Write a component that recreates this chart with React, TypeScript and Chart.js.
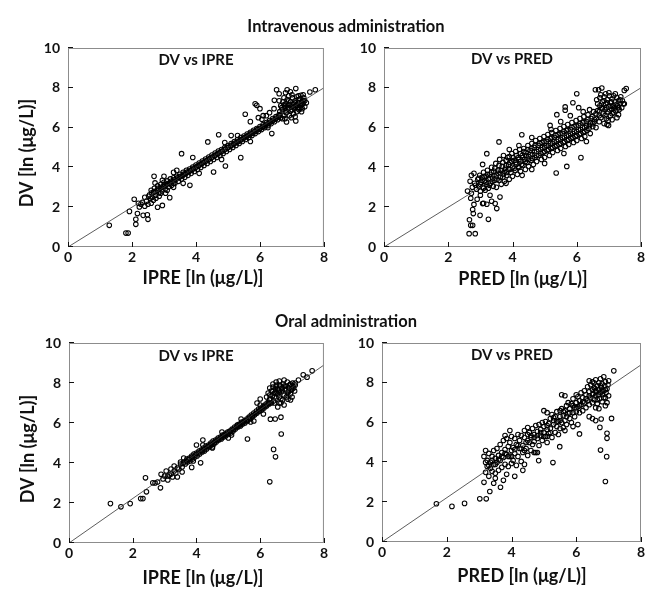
import { useEffect, useRef } from "react";
import { Chart, registerables } from "chart.js";
Chart.register(...registerables);

const xTicks = [0, 2, 4, 6, 8];
const yTicks = [0, 2, 4, 6, 8, 10];

const ivIpre: [number, number][] = [
  [1.29,1.09],[1.81,0.70],[1.88,0.70],[1.92,1.79],[2.07,2.40],[2.12,1.39],[2.17,1.68],[2.12,1.14],[2.23,2.01],[2.2,2.2],
  [2.28,2.15],[2.33,2.25],[2.35,1.59],[2.4,2.05],[2.48,1.62],[2.5,1.39],[2.45,2.3],[2.52,2.55],[2.58,2.45],[2.67,2.35],
  [2.69,3.55],[2.72,3.22],[2.8,2.0],[2.95,2.09],[3.18,2.48],[2.85,2.55],[3.05,2.7],[3.3,3.0],[3.55,4.69],[3.81,3.10],
  [4.37,5.28],[4.55,3.77],[4.71,5.64],[4.92,4.07],[5.40,4.49],[5.54,6.67],[5.85,7.2],[5.9,7.12],[6.0,6.95],[6.06,6.42],
  [6.37,5.70],[6.44,6.95],[6.52,7.9],[6.6,7.7],[6.45,7.37],[6.85,7.9],[7.12,7.96],[7.35,7.65],[7.56,7.79],[7.73,7.9],
  [6.78,6.45],[6.83,6.28],[7.12,6.33],[3.9,4.5],[4.1,3.7],[3.6,3.2],[4.8,4.4],[5.1,5.6],[5.7,5.3],[6.2,6.6],
  [3.3,3.75],[3.0,3.55],[2.9,2.7],
  [2.55,2.62],[2.6,2.85],[2.63,2.5],[2.68,2.75],[2.7,2.95],[2.74,2.6],[2.78,2.85],[2.8,3.08],[2.84,2.72],[2.88,2.95],
  [2.9,3.15],[2.94,2.82],[2.98,3.05],[3.0,3.25],[3.04,2.92],[3.08,3.15],[3.1,3.32],[3.14,3.02],[3.18,3.22],[3.2,3.42],
  [3.24,3.1],[3.28,3.3],[3.3,3.48],[3.34,3.2],[3.38,3.4],[3.4,3.55],[3.45,3.3],[3.48,3.5],[3.5,3.65],[3.55,3.42],
  [3.58,3.58],[3.6,3.75],[3.65,3.5],[3.68,3.68],[3.7,3.85],[3.75,3.6],[3.78,3.78],[3.8,3.92],[3.85,3.7],[3.88,3.88],
  [3.9,4.02],[3.95,3.8],[3.98,3.98],[4.0,4.12],[4.05,3.9],[4.08,4.08],[4.1,4.22],[4.15,4.0],[4.18,4.18],[4.2,4.32],
  [4.25,4.1],[4.28,4.28],[4.3,4.42],[4.35,4.2],[4.38,4.38],[4.4,4.52],[4.45,4.3],[4.48,4.48],[4.5,4.62],[4.55,4.4],
  [4.58,4.58],[4.6,4.72],[4.65,4.5],[4.68,4.68],[4.7,4.82],[4.75,4.6],[4.78,4.78],[4.8,4.9],[4.85,4.7],[4.88,4.88],
  [4.9,5.0],[4.95,4.8],[4.98,4.98],[5.0,5.1],[5.05,4.9],[5.08,5.06],[5.1,5.2],[5.15,5.0],[5.18,5.16],[5.2,5.3],
  [5.25,5.1],[5.28,5.26],[5.3,5.4],[5.35,5.2],[5.38,5.35],[5.4,5.5],[5.45,5.3],[5.48,5.45],[5.5,5.58],[5.55,5.4],
  [5.58,5.54],[5.6,5.68],[5.65,5.5],[5.68,5.63],[5.7,5.76],[5.75,5.6],[5.78,5.72],[5.8,5.86],[5.85,5.7],[5.88,5.82],
  [5.9,5.95],[5.95,5.8],[5.98,5.92],[6.0,6.05],[6.05,5.9],[6.08,6.02],[6.1,6.15],[6.15,6.0],[6.18,6.12],[6.2,6.25],
  [6.25,6.1],[6.28,6.22],[6.3,6.35],[6.35,6.2],[6.38,6.32],[6.4,6.45],[6.45,6.3],[6.48,6.42],[6.5,6.55],[6.55,6.4],
  [6.58,6.52],[6.6,6.65],[6.65,6.5],
  [2.62,2.72],[2.72,2.78],[2.82,2.95],[2.92,3.0],[3.02,3.12],[3.12,3.18],[3.22,3.3],[3.32,3.38],[3.42,3.48],[3.52,3.55],
  [3.62,3.66],[3.72,3.76],[3.82,3.84],[3.92,3.95],[4.02,4.04],[4.12,4.14],[4.22,4.24],[4.32,4.34],[4.42,4.44],[4.52,4.53],
  [4.62,4.63],[4.72,4.73],[4.82,4.82],[4.92,4.93],[5.02,5.02],[5.12,5.12],[5.22,5.22],[5.32,5.3],[5.42,5.4],[5.52,5.5],
  [5.62,5.6],[5.72,5.7],[5.82,5.8],[5.92,5.9],[6.02,5.98],[6.12,6.08],[6.22,6.18],[6.32,6.28],[6.42,6.38],[6.52,6.48],
  [6.62,6.6],
  [5.7,6.3],[5.95,6.5],[6.1,6.6],[6.3,6.75],[6.25,6.0],[5.3,5.6],[4.9,5.25],[3.4,3.85],[3.1,2.85],[2.95,3.35],
  [2.75,2.45],[2.6,2.2],[2.4,2.5],[2.5,2.15],[3.3,3.2],
  [6.62,6.8],[6.65,7.1],[6.7,6.9],[6.72,7.3],[6.75,6.6],[6.78,7.0],[6.8,7.2],[6.82,6.75],[6.85,7.4],[6.88,6.95],
  [6.9,7.15],[6.92,6.6],[6.95,7.3],[6.97,6.85],[7.0,7.05],[7.02,7.5],[7.05,6.7],[7.05,7.2],[7.08,6.95],[7.1,7.35],
  [7.12,7.1],[7.15,6.8],[7.15,7.55],[7.18,7.0],[7.2,7.25],[7.22,6.9],[7.25,7.45],[7.27,7.1],[7.3,7.3],[7.32,6.95],
  [7.35,7.2],[7.37,7.5],[7.4,7.05],[7.4,7.35],[7.0,7.65],[6.9,7.6],[6.75,7.5],[7.2,7.6],[7.28,7.62],[6.98,6.5],
  [7.1,6.55],[6.7,6.45],[7.3,6.8],[7.45,7.25],[6.6,7.35],[6.95,7.8],[6.8,7.75],
  [6.68,7.0],[6.8,6.85],[6.9,7.0],[7.0,6.9],[7.05,7.0],[7.15,7.15],[7.25,7.0],[7.3,7.15],[6.9,7.35],[7.1,7.25],
  [6.85,7.1],[7.2,7.4],[7.35,7.35],[6.75,7.15]
];

const ivPred: [number, number][] = [
  [2.65,0.67],[2.84,0.67],[2.7,1.09],[2.76,1.09],[2.66,1.37],[2.78,1.68],[2.76,1.88],[2.8,2.14],[2.6,2.81],[2.99,1.59],
  [3.25,1.39],[3.07,2.18],[3.2,2.15],[3.51,1.93],[3.46,2.18],[3.61,2.51],[3.2,4.69],[3.07,4.15],[3.58,5.28],[4.29,5.64],
  [5.69,4.05],[5.36,3.72],[6.13,4.49],[6.0,7.7],[5.64,7.04],[5.64,6.87],[5.88,7.25],[6.06,7.0],[5.38,6.65],[5.17,6.11],
  [6.58,7.9],[6.68,7.9],[6.78,7.99],[7.48,7.87],[7.54,7.96],[7.48,7.2],[6.94,6.15],[6.99,6.11],[2.7,2.45],[2.72,2.7],
  [2.75,3.0],[2.68,3.3],[2.72,3.6],[2.8,3.7],[2.9,2.4],[3.0,2.6],[3.1,2.2],[3.35,2.3],[3.3,2.6],[2.95,3.45],[2.85,3.1],
  [5.5,6.3],[5.8,6.6],[6.2,6.8],[6.4,6.9],[5.2,5.9],[4.6,5.5],[4.2,5.1],[3.9,4.9],[4.6,3.9],[5.0,4.2],[5.6,4.7],
  [6.3,5.3],[3.8,3.2],[4.3,3.6],
  [2.82,3.2],[2.88,2.9],[2.92,3.4],[2.95,3.05],[2.98,3.6],[3.0,2.8],[3.02,3.25],
  [3.05,3.5],[3.08,3.0],[3.1,3.75],[3.12,3.3],[3.15,2.85],[3.18,3.55],[3.2,3.15],[3.22,3.85],[3.25,3.4],[3.25,2.95],
  [3.3,3.65],[3.32,3.2],[3.35,4.0],[3.38,3.45],[3.4,3.05],[3.42,3.8],[3.45,3.35],[3.48,4.2],[3.5,3.6],[3.5,3.0],
  [3.55,3.85],[3.58,3.35],[3.6,4.4],[3.62,3.7],[3.65,3.15],[3.68,4.05],[3.7,3.5],[3.72,4.6],[3.75,3.8],[3.75,3.3],
  [3.8,4.1],[3.82,3.6],[3.85,4.5],[3.88,3.9],[3.9,3.4],[3.92,4.25],[3.95,3.75],[3.98,4.7],[4.0,4.0],[4.0,3.55],
  [4.05,4.35],[4.08,3.85],[4.1,4.8],[4.12,4.15],[4.15,3.65],[4.18,4.5],[4.2,4.0],[4.22,4.9],[4.25,4.3],[4.25,3.8],
  [4.3,4.6],[4.32,4.1],[4.35,4.95],[4.38,4.4],[4.4,3.9],[4.42,4.75],[4.45,4.25],[4.48,5.1],[4.5,4.55],[4.5,4.05],
  [4.55,4.85],[4.58,4.35],[4.6,5.2],[4.62,4.65],[4.65,4.15],[4.68,5.0],[4.7,4.5],[4.72,5.35],[4.75,4.8],[4.75,4.3],
  [4.8,5.1],[4.82,4.6],[4.85,5.45],[4.88,4.9],[4.9,4.4],[4.92,5.25],[4.95,4.75],[4.98,5.55],[5.0,5.0],[5.0,4.5],
  [5.05,5.3],[5.08,4.85],[5.1,5.65],[5.12,5.1],[5.15,4.6],[5.18,5.45],[5.2,4.95],[5.22,5.75],[5.25,5.2],[5.25,4.75],
  [5.3,5.5],[5.32,5.05],[5.35,5.85],[5.38,5.3],[5.4,4.85],[5.42,5.65],[5.45,5.15],[5.48,5.95],[5.5,5.4],[5.5,4.95],
  [5.55,5.7],[5.58,5.25],[5.6,6.05],[5.62,5.5],[5.65,5.05],[5.68,5.85],[5.7,5.35],[5.72,6.15],[5.75,5.6],[5.75,5.15],
  [5.8,5.9],[5.82,5.45],[5.85,6.25],[5.88,5.7],[5.9,5.25],[5.92,6.05],[5.95,5.55],[5.98,6.35],[6.0,5.8],[6.0,5.35],
  [6.05,6.1],[6.08,5.65],[6.1,6.45],[6.12,5.9],[6.15,5.45],[6.18,6.25],[6.2,5.75],[6.22,6.55],[6.25,6.0],[6.25,5.55],
  [6.3,6.3],[6.32,5.85],[6.35,6.65],[6.4,6.1],[6.42,5.7],[6.45,6.45],[6.5,6.2],[6.52,6.8],[6.55,6.4],[6.6,6.0],[6.6,6.7],
  [3.0,3.15],[3.05,3.35],[3.1,2.95],[3.12,3.55],[3.18,3.25],[3.22,3.65],[3.28,3.1],[3.3,3.45],[3.35,3.75],[3.38,3.3],
  [3.42,3.6],[3.45,3.95],[3.52,3.4],[3.55,3.7],[3.58,4.1],[3.62,3.5],[3.65,3.85],[3.7,4.25],[3.72,3.65],[3.78,3.95],
  [3.8,4.35],[3.82,3.75],[3.88,4.15],[3.9,4.55],[3.92,3.9],[3.98,4.3],[4.02,4.5],[4.05,3.95],[4.1,4.25],[4.12,4.6],
  [4.18,4.05],[4.2,4.4],[4.25,4.7],[4.28,4.15],[4.32,4.5],[4.35,4.8],[4.4,4.3],[4.42,4.6],[4.48,4.9],[4.5,4.4],
  [4.55,4.65],[4.6,4.95],[4.62,4.45],[4.68,4.8],[4.7,5.1],[4.75,4.6],[4.8,4.9],[4.85,5.2],[4.88,4.7],[4.92,5.0],
  [4.98,5.3],[5.0,4.8],[5.05,5.1],[5.1,5.4],[5.12,4.9],[5.18,5.2],[5.22,5.5],[5.25,5.0],[5.3,5.3],[5.35,5.6],
  [5.38,5.1],[5.42,5.4],[5.48,5.7],[5.5,5.2],[5.55,5.5],[5.6,5.8],[5.62,5.3],[5.68,5.6],[5.72,5.9],[5.75,5.4],
  [5.8,5.7],[5.85,6.0],[5.88,5.5],[5.92,5.8],[5.98,6.1],[6.0,5.6],[6.05,5.9],[6.1,6.2],[6.12,5.7],[6.18,6.0],
  [6.22,6.3],[6.25,5.8],[6.3,6.1],[6.35,6.4],[6.38,5.95],[6.42,6.25],[6.48,6.55],[6.5,6.05],[6.55,6.3],[6.6,6.45],
  [6.65,6.85],[6.72,7.1],[6.8,6.95],[6.85,7.35],[6.92,7.0],[6.95,7.25],[7.02,6.9],[7.08,7.3],[7.15,7.05],[7.22,7.15],
  [7.3,7.0],[7.35,7.4],[6.7,6.6],[6.88,6.6],[7.1,6.7],
  [6.65,7.2],[6.7,6.8],[6.72,7.5],[6.75,6.5],[6.78,7.0],[6.8,7.3],[6.82,6.7],[6.85,7.55],[6.88,6.9],[6.9,7.2],
  [6.92,6.45],[6.95,7.4],[6.97,6.8],[7.0,7.05],[7.02,7.6],[7.05,6.6],[7.05,7.25],[7.08,6.95],[7.1,7.45],[7.12,7.1],
  [7.15,6.75],[7.15,7.6],[7.18,7.0],[7.2,7.3],[7.22,6.85],[7.25,7.5],[7.27,7.1],[7.3,7.35],[7.32,6.9],[7.35,7.2],
  [7.37,7.55],[7.4,7.0],[7.42,7.35],[7.0,7.75],[6.9,7.7],[6.75,7.65],[7.2,7.7],[6.98,6.35],[7.1,6.4],[6.7,6.3],
  [7.3,6.65],[7.45,7.2],[6.62,7.4],[6.85,6.2],[7.25,6.5]
];

const oralIpre: [number, number][] = [
  [1.30,1.97],[1.63,1.81],[1.92,1.97],[2.25,2.22],[2.32,2.22],[2.40,3.26],[2.43,2.56],[2.63,3.01],[2.87,2.76],[2.89,3.44],
  [2.7,3.0],[2.78,3.05],[2.95,3.2],[3.0,3.35],[3.05,3.6],[3.1,3.15],[3.15,3.4],[3.2,3.7],[3.25,3.3],[3.3,3.85],
  [3.35,3.5],[3.4,3.3],[3.45,3.7],[3.5,3.95],
  [5.6,5.2],[4.13,4.01],[6.32,6.19],[6.47,6.20],[6.65,6.29],[6.66,5.45],[6.42,4.68],[6.48,4.31],[6.3,3.06],[6.87,7.19],
  [3.85,3.78],[3.5,4.05],[3.55,3.55],[4.0,4.9],[4.2,5.15],[4.5,4.8],[5.0,5.25],[5.3,5.9],[5.8,6.1],[6.1,6.45],
  [5.9,7.0],[6.0,7.2],[7.63,8.61],[7.35,8.41],[7.47,8.29],[7.2,8.15],[7.1,8.0],[6.6,7.0],[6.55,6.8],[6.75,6.9],
  [3.55,3.8],[3.6,4.05],[3.65,3.95],[3.7,4.2],[3.72,4.05],[3.78,4.25],[3.8,4.1],[3.85,4.35],[3.88,4.2],
  [3.92,4.45],[3.95,4.3],[4.0,4.5],[4.02,4.35],[4.08,4.6],[4.1,4.45],[4.15,4.65],[4.18,4.55],[4.22,4.75],[4.25,4.6],
  [4.3,4.85],[4.32,4.7],[4.38,4.9],[4.4,4.8],[4.45,5.0],[4.48,4.9],[4.52,5.1],[4.55,4.95],[4.6,5.15],[4.62,5.05],
  [4.68,5.25],[4.7,5.15],[4.75,5.3],[4.78,5.2],[4.82,5.4],[4.85,5.3],[4.9,5.45],[4.92,5.35],[4.98,5.55],[5.0,5.45],
  [5.05,5.6],[5.08,5.5],[5.12,5.7],[5.15,5.6],[5.2,5.8],[5.22,5.7],[5.28,5.9],[5.3,5.8],[5.35,5.95],[5.38,5.85],
  [5.42,6.05],[5.45,5.95],[5.5,6.1],[5.52,6.0],[5.58,6.2],[5.6,6.1],[5.65,6.3],[5.68,6.2],[5.72,6.4],[5.75,6.3],
  [5.8,6.5],[5.82,6.4],[5.88,6.6],[5.9,6.5],[5.95,6.7],[5.98,6.6],[6.02,6.75],[6.05,6.65],[6.1,6.85],[6.12,6.75],
  [6.18,6.95],[6.2,6.85],[6.25,7.05],[6.28,6.95],[6.3,7.15],
  [3.6,4.25],[3.9,4.1],[4.2,4.9],[4.5,4.75],[4.8,5.55],[5.1,5.4],[5.4,6.2],[5.7,6.05],[6.0,6.9],
  [3.58,3.98],[3.68,4.1],[3.76,4.18],[3.86,4.28],[3.96,4.4],[4.06,4.5],[4.16,4.6],[4.26,4.7],[4.36,4.82],[4.46,4.93],
  [4.56,5.03],[4.66,5.15],[4.76,5.25],[4.86,5.38],[4.96,5.48],[5.06,5.58],[5.16,5.68],[5.26,5.8],[5.36,5.9],[5.46,6.02],
  [5.56,6.12],[5.66,6.24],[5.76,6.36],[5.86,6.47],[5.96,6.6],[6.06,6.72],[6.16,6.85],[6.26,6.98],[3.3,3.6],[3.4,3.75],
  [3.2,3.45],[3.1,3.35],
  [6.2,7.3],[6.25,7.5],[6.3,7.2],[6.35,7.6],[6.38,7.35],[6.4,7.8],[6.42,7.1],[6.45,7.5],[6.48,7.7],[6.5,7.25],
  [6.52,7.9],[6.55,7.45],[6.58,7.65],[6.6,7.3],[6.62,7.85],[6.65,7.55],[6.68,7.75],[6.7,7.15],[6.72,7.95],[6.75,7.4],
  [6.78,7.65],[6.8,7.85],[6.82,7.3],[6.85,8.05],[6.88,7.55],[6.9,7.75],[6.92,7.9],[6.95,7.45],[6.98,7.65],[7.0,7.85],
  [7.02,8.0],[7.05,7.75],[7.08,7.6],[7.1,7.9],[6.5,8.05],[6.3,7.75],[6.6,8.1],[6.45,7.0],[6.65,7.0],[6.95,7.15],
  [7.0,7.3],[6.75,8.15],[6.4,7.95],[6.35,7.0],
  [6.3,7.4],[6.4,7.6],[6.5,7.5],[6.55,7.7],[6.6,7.55],[6.7,7.6],[6.8,7.7],[6.85,7.5],[6.9,7.6],[7.0,7.7],
  [6.75,7.85],[6.6,7.9],[6.95,7.95],[6.45,7.3],[6.65,7.2],[6.5,7.85]
];

const oralPred: [number, number][] = [
  [1.68,1.92],[2.16,1.79],[2.55,1.94],[3.02,2.17],[3.22,2.17],[3.33,2.54],[3.66,2.75],[5.28,3.99],[4.84,4.09],[5.49,4.79],
  [6.1,5.43],[6.75,4.62],[6.94,4.29],[6.9,3.04],[6.95,5.46],[6.95,5.21],[7.09,6.21],[7.16,8.6],[6.73,5.76],[6.77,6.18],
  [3.5,3.2],[3.45,2.95],[3.75,3.1],[3.85,3.4],[4.1,3.3],[4.35,3.6],[4.4,3.9],[4.7,4.5],[4.8,4.5],[5.1,5.3],
  [5.65,5.6],[5.9,5.8],[6.05,5.9],[6.5,6.2],[6.4,6.3],[6.6,6.1],[5.0,6.6],[5.1,6.5],[5.55,7.4],[5.65,7.35],
  [3.95,5.6],[3.8,5.35],
  [3.15,3.0],[3.15,4.3],[3.2,3.5],[3.2,4.6],[3.25,3.8],[3.25,4.1],[3.3,3.3],[3.3,4.45],[3.35,3.7],[3.35,4.0],
  [3.4,4.3],[3.4,3.55],[3.45,4.6],[3.45,3.9],[3.5,4.2],[3.5,3.45],
  [3.55,4.0],[3.55,4.7],[3.6,3.6],[3.6,4.35],[3.65,4.9],[3.65,4.1],[3.7,3.75],[3.7,4.5],[3.75,5.1],[3.75,4.25],
  [3.8,3.9],[3.8,4.65],[3.85,5.2],[3.85,4.4],[3.9,3.8],[3.9,4.8],[3.95,5.0],[3.95,4.3],[4.0,4.6],[4.0,3.95],[4.0,5.3],
  [4.05,4.75],[4.05,4.1],[4.1,5.2],[4.1,4.45],[4.15,3.85],[4.15,4.9],[4.2,5.4],[4.2,4.3],[4.25,4.7],[4.25,5.1],
  [4.3,4.05],[4.3,5.35],[4.35,4.85],[4.35,4.5],[4.4,5.25],[4.4,5.6],[4.45,4.7],[4.45,5.0],[4.5,5.4],[4.5,4.35],[4.5,5.75],
  [4.55,5.0],[4.55,5.5],[4.6,4.6],[4.6,5.25],[4.65,5.7],[4.65,4.9],[4.7,5.4],[4.7,5.05],[4.75,5.85],[4.75,4.5],
  [4.8,5.2],[4.8,5.55],[4.85,4.85],[4.85,5.9],[4.9,5.35],[4.9,5.65],[4.95,5.1],[4.95,6.0],[5.0,5.5],[5.0,5.8],
  [5.05,5.3],[5.05,6.05],[5.1,5.65],[5.1,5.0],[5.15,5.95],[5.15,5.45],[5.2,6.2],[5.2,5.7],[5.25,5.25],[5.25,6.4],
  [5.3,5.9],[5.3,6.1],[5.35,5.5],[5.35,6.3],[5.4,5.8],[5.4,6.55],[5.45,6.05],[5.45,5.4],[5.5,6.3],[5.5,6.6],[5.5,5.7],
  [5.55,6.0],[5.55,6.7],[5.6,6.35],[5.6,5.75],[5.65,6.6],[5.65,6.1],[5.7,6.85],[5.7,5.9],[5.75,6.45],[5.75,7.0],
  [5.8,6.2],[5.8,6.7],[5.85,6.95],[5.85,6.0],[5.9,6.5],[5.9,7.2],[5.95,6.75],[5.95,6.3],[6.0,7.0],[6.0,6.55],[6.0,7.4],
  [6.05,6.8],[6.05,7.3],[6.1,6.5],[6.1,7.1],[6.15,7.5],[6.15,6.9],[6.2,6.6],[6.2,7.25],[6.25,7.6],[6.25,7.0],
  [6.3,6.75],[6.3,7.4],[6.35,7.8],[6.35,7.1],[6.4,6.9],[6.4,7.55],[6.45,7.9],[6.45,7.25],[6.5,7.0],[6.5,7.65],
  [3.2,4.0],[3.3,3.85],[3.4,4.1],[3.5,3.9],[3.6,4.15],[3.7,4.3],[3.8,4.45],[3.9,4.3],[4.0,4.3],[4.1,4.65],
  [4.2,4.85],[4.3,4.7],[4.4,4.6],[4.5,5.1],[4.6,5.35],[4.7,5.25],[4.8,5.35],[4.9,5.5],[5.0,5.3],[5.1,5.85],
  [5.2,5.5],[5.3,6.25],[5.4,6.05],[5.5,6.1],[5.6,6.55],[5.7,6.3],[5.8,6.5],[5.9,6.85],[6.0,6.75],[6.1,6.85],
  [6.2,7.05],[6.3,7.2],[6.4,7.35],[6.5,7.4],[6.6,7.6],[6.7,7.4],[6.8,7.6],[6.9,7.65],[6.75,7.85],[6.65,7.15],
  [6.55,7.75],[6.85,7.25],
  [6.52,7.45],[6.55,8.0],[6.55,7.15],[6.58,7.7],[6.6,7.35],[6.6,8.15],[6.62,7.55],[6.65,6.95],[6.65,7.85],[6.68,7.4],
  [6.7,8.0],[6.7,7.65],[6.72,7.2],[6.75,7.5],[6.75,8.2],[6.78,7.75],[6.8,7.05],[6.8,7.95],[6.82,7.4],[6.85,7.6],
  [6.85,8.3],[6.88,7.85],[6.9,7.25],[6.9,8.05],[6.92,7.5],[6.95,7.7],[6.95,7.0],[6.98,7.9],[6.6,6.75],[6.7,6.7],
  [6.9,6.85],[7.0,7.35],[6.5,8.05],[6.4,8.1],[7.0,8.1]
];

const ivLine: [number, number][] = [[0, 0], [8, 8]];
const oralLine: [number, number][] = [[0, 0], [8, 8.9]];

const FONT = "Lato, 'DejaVu Sans', sans-serif";

type PanelCfg = {
  points: [number, number][];
  line: [number, number][];
  subtitle: string;
  xTitle: string;
  yTitle: string | null;
  left: number; top: number; width: number; height: number;
  padTop: number; padRight: number; yW: number; xH: number;
  xTitleX: number; xTitleY: number; yTitleX: number; yTitleY: number;
  subX: number; subY: number;
};

const panels: PanelCfg[] = [
  { points: ivIpre, line: ivLine, subtitle: "DV vs IPRE", xTitle: "IPRE [ln (\u03bcg/L)]", yTitle: "DV [ln (\u03bcg/L)]",
    left: 0, top: 0, width: 330, height: 300, padTop: 48, padRight: 4, yW: 68, xH: 53,
    xTitleX: 203, xTitleY: 278, yTitleX: 27, yTitleY: 153, subX: 196, subY: 60 },
  { points: ivPred, line: ivLine, subtitle: "DV vs PRED", xTitle: "PRED [ln (\u03bcg/L)]", yTitle: null,
    left: 327, top: 0, width: 327, height: 300, padTop: 48, padRight: 13, yW: 57, xH: 53,
    xTitleX: 523, xTitleY: 279, yTitleX: 0, yTitleY: 0, subX: 512, subY: 59 },
  { points: oralIpre, line: oralLine, subtitle: "DV vs IPRE", xTitle: "IPRE [ln (\u03bcg/L)]", yTitle: "DV [ln (\u03bcg/L)]",
    left: 0, top: 300, width: 330, height: 298, padTop: 43, padRight: 2, yW: 69, xH: 55,
    xTitleX: 203, xTitleY: 578, yTitleX: 28, yTitleY: 449, subX: 196, subY: 356 },
  { points: oralPred, line: oralLine, subtitle: "DV vs PRED", xTitle: "PRED [ln (\u03bcg/L)]", yTitle: null,
    left: 327, top: 300, width: 327, height: 298, padTop: 43, padRight: 13, yW: 55, xH: 56,
    xTitleX: 522, xTitleY: 576, yTitleX: 0, yTitleY: 0, subX: 512, subY: 355 },
];

const decorPlugin = {
  id: "decor",
  afterDraw(chart: any, _args: any, opts: any) {
    const cfg: PanelCfg = opts.cfg;
    const { ctx, chartArea: a, scales } = chart;
    ctx.save();
    ctx.strokeStyle = "#8c8c8c";
    ctx.lineWidth = 1;
    ctx.strokeRect(a.left + 0.5, a.top + 0.5, a.right - a.left - 1, a.bottom - a.top - 1);
    ctx.strokeStyle = "#111";
    ctx.beginPath();
    xTicks.forEach((v) => {
      const px = Math.round(scales.x.getPixelForValue(v)) + 0.5;
      ctx.moveTo(px, a.bottom);
      ctx.lineTo(px, a.bottom - 5);
    });
    yTicks.forEach((v) => {
      const py = Math.round(scales.y.getPixelForValue(v)) - 0.5;
      ctx.moveTo(a.left, py);
      ctx.lineTo(a.left + 5, py);
    });
    ctx.stroke();
    ctx.fillStyle = "#111";
    ctx.textAlign = "center";
    ctx.textBaseline = "middle";
    ctx.font = `bold 15px ${FONT}`;
    ctx.fillText(cfg.subtitle, cfg.subX - cfg.left, cfg.subY - cfg.top);
    ctx.font = `bold 18px ${FONT}`;
    ctx.fillText(cfg.xTitle, cfg.xTitleX - cfg.left, cfg.xTitleY - cfg.top);
    if (cfg.yTitle) {
      ctx.translate(cfg.yTitleX - cfg.left, cfg.yTitleY - cfg.top);
      ctx.rotate(-Math.PI / 2);
      ctx.fillText(cfg.yTitle, 0, 0);
    }
    ctx.restore();
  },
};

function Panel({ cfg }: { cfg: PanelCfg }) {
  const ref = useRef<HTMLCanvasElement>(null);
  useEffect(() => {
    if (!ref.current) return;
    const tickFont = { family: FONT, size: 14, weight: "bold" as const };
    const chart = new Chart(ref.current, {
      type: "scatter",
      data: {
        datasets: [
          {
            type: "line" as any,
            data: cfg.line.map(([x, y]) => ({ x, y })),
            borderColor: "#333",
            borderWidth: 0.8,
            pointRadius: 0,
            fill: false,
          } as any,
          {
            data: cfg.points.map(([x, y]) => ({ x, y })),
            pointStyle: "circle",
            pointRadius: 2.3,
            pointBorderWidth: 1.05,
            borderColor: "#000",
            backgroundColor: "rgba(255,255,255,0)",
            pointBackgroundColor: "rgba(255,255,255,0)",
            pointBorderColor: "#000",
          } as any,
        ],
      },
      options: {
        animation: false,
        responsive: false,
        devicePixelRatio: 1,
        events: [],
        layout: { padding: { left: 0, top: cfg.padTop, right: cfg.padRight, bottom: 0 }, autoPadding: false },
        plugins: {
          legend: { display: false },
          tooltip: { enabled: false },
          decor: { cfg },
        } as any,
        scales: {
          x: {
            type: "linear",
            min: 0,
            max: 8,
            afterBuildTicks: (s: any) => { s.ticks = xTicks.map((v) => ({ value: v })); },
            afterFit: (s: any) => { s.height = cfg.xH; },
            ticks: { font: tickFont, color: "#111", padding: 2, maxRotation: 0, autoSkip: false },
            grid: { display: false, drawTicks: false },
            border: { display: false },
          },
          y: {
            type: "linear",
            min: 0,
            max: 10,
            afterBuildTicks: (s: any) => { s.ticks = yTicks.map((v) => ({ value: v })); },
            afterFit: (s: any) => { s.width = cfg.yW; },
            ticks: { font: tickFont, color: "#111", padding: 8, autoSkip: false },
            grid: { display: false, drawTicks: false },
            border: { display: false },
          },
        },
      } as any,
      plugins: [decorPlugin],
    });
    return () => chart.destroy();
  }, [cfg]);
  return (
    <canvas
      ref={ref}
      width={cfg.width}
      height={cfg.height}
      style={{ position: "absolute", left: cfg.left, top: cfg.top, width: cfg.width, height: cfg.height }}
    />
  );
}

const titleStyle = (x: number, y: number): React.CSSProperties => ({
  position: "absolute",
  left: x,
  top: y,
  transform: "translate(-50%, -50%)",
  font: `bold 16.5px ${FONT}`,
  color: "#111",
  whiteSpace: "nowrap",
  lineHeight: "20px",
});

export default function App() {
  return (
    <div style={{ position: "absolute", left: 0, top: 0, width: 654, height: 598, background: "#fff", overflow: "hidden" }}>
      {panels.map((p, i) => (
        <Panel key={i} cfg={p} />
      ))}
      <div style={titleStyle(346, 26)}>Intravenous administration</div>
      <div style={titleStyle(346, 321)}>Oral administration</div>
    </div>
  );
}
